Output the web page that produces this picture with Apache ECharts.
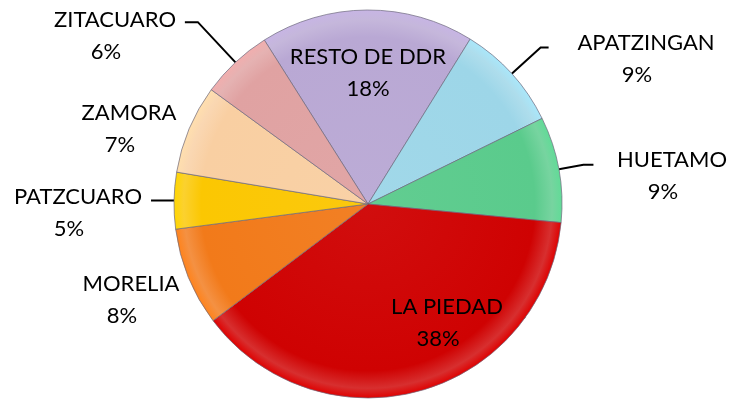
<!DOCTYPE html>
<html>
<head>
<meta charset="utf-8">
<script src="https://cdn.jsdelivr.net/npm/echarts@6/dist/echarts.min.js"></script>
<style>
  html, body { margin: 0; padding: 0; background: #fff; }
  #chart { width: 734px; height: 400px; }
</style>
</head>
<body>
<div id="chart"></div>
<script>
// slices clockwise, starting with RESTO DE DDR at the top
const names = ['RESTO DE DDR', 'APATZINGAN', 'HUETAMO', 'LA PIEDAD', 'MORELIA', 'PATZCUARO', 'ZAMORA', 'ZITACUARO']
const values = [17.8, 8.9, 8.8, 38.2, 8.2, 4.7, 7.4, 6.0]
const colors = ['#b9a8d4', '#9dd6e8', '#5acb8c', '#cf0202', '#f27a1a', '#fbc702', '#f9cfa2', '#e0a2a2']

// label placement (text block centres) and leader lines
const insideLabels = ['RESTO DE DDR', 'LA PIEDAD']
const labelPos = {
  'RESTO DE DDR': [368, 73],
  'APATZINGAN': [646, 59],
  'HUETAMO': [672, 176],
  'LA PIEDAD': [447, 323],
  'MORELIA': [131, 300],
  'PATZCUARO': [78, 213],
  'ZAMORA': [129, 129],
  'ZITACUARO': [115, 36],
}
const leader = {
  'APATZINGAN': [39, 8],
  'HUETAMO': [25, 10],
  'PATZCUARO': [12, 11],
  'ZITACUARO': [55, 13],
}

const cx = 368
const cy = 204
const radius = 194

function shade(hex, amt) {
  let c = echarts.color.lift(hex, amt)
  return c
}

let chart = echarts.init(document.getElementById('chart'))

let data = names.map((n, i) => {
  let item = {
    name: n,
    value: values[i],
    itemStyle: {
      color: new echarts.graphic.RadialGradient(cx, cy, radius, [
        { offset: 0, color: shade(colors[i], 0.05) },
        { offset: 0.86, color: colors[i] },
        { offset: 0.95, color: shade(colors[i], 0.18) },
        { offset: 1, color: shade(colors[i], -0.08) },
      ], true),
    },
  }
  if (insideLabels.includes(n)) {
    item.label = { position: 'inside' }
  } else if (leader[n]) {
    item.labelLine = { show: true, length: leader[n][0], length2: leader[n][1] }
  } else {
    item.labelLine = { show: false }
  }
  return item
})

chart.setOption({
  animation: false,
  series: [
    {
      type: 'pie',
      center: [cx, cy],
      radius: radius,
      startAngle: 122.3,
      avoidLabelOverlap: false,
      data: data,
      itemStyle: {
        borderColor: 'rgba(110,105,125,0.7)',
        borderWidth: 1,
      },
      label: {
        show: true,
        position: 'outside',
        color: '#000',
        fontFamily: 'Lato',
        fontSize: 22,
        lineHeight: 32,
        formatter: function (p) {
          let pad = p.name === 'RESTO DE DDR' ? 'q' : 'p'
          return '{n|' + p.name + '}\n{' + pad + '|' + Math.round(p.percent) + '%}'
        },
        rich: {
          n: { fontFamily: 'Lato', fontSize: 22, lineHeight: 32, color: '#000' },
          p: { fontFamily: 'Lato', fontSize: 22, lineHeight: 32, color: '#000', padding: [0, 18, 0, 0] },
          q: { fontFamily: 'Lato', fontSize: 22, lineHeight: 32, color: '#000' },
        },
      },
      labelLine: {
        show: true,
        smooth: false,
        lineStyle: { color: '#000', width: 2 },
      },
      labelLayout: function (params) {
        let pos = labelPos[names[params.dataIndex]]
        return {
          x: pos[0],
          y: pos[1],
          align: 'center',
          verticalAlign: 'middle',
          labelLinePoints: params.labelLinePoints,
        }
      },
    },
  ],
})
</script>
</body>
</html>
